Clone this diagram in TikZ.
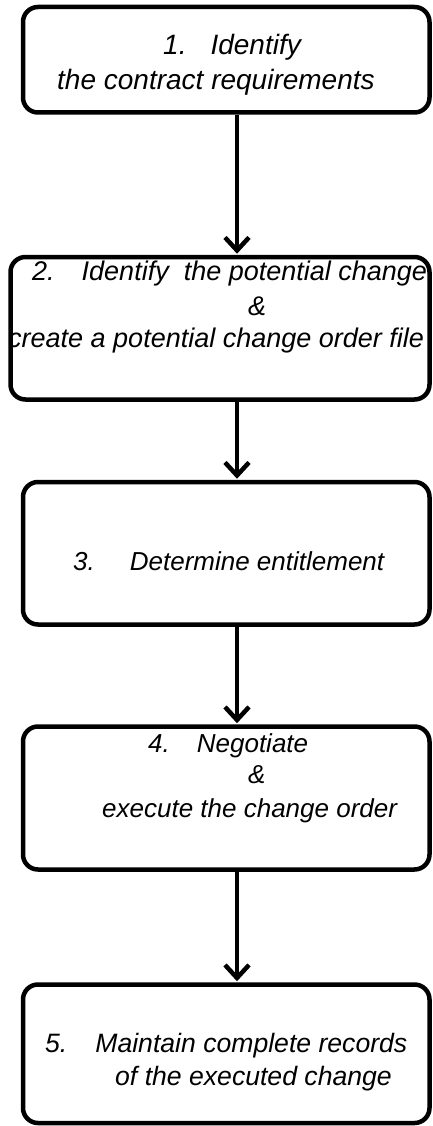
\documentclass[tikz,border=0pt]{standalone}
\usepackage{fontspec}
\setmainfont{Liberation Sans}
\usetikzlibrary{arrows.meta}
\tikzset{
  stepbox/.style={draw=black, line width=4.5pt, rounded corners=15pt, rectangle, inner sep=0pt, fill=white},
  txt/.style={anchor=base west, inner sep=0pt, font=\itshape},
  flow/.style={line width=4.5pt, -{Straight Barb[length=13pt,width=24pt]}, shorten >=1pt}
}
\begin{document}
\begin{tikzpicture}[x=1pt,y=1pt]
\useasboundingbox (0,0) rectangle (432,-1126);
% boxes
\node[stepbox, minimum width=406.5pt, minimum height=105.5pt] (b1) at (226.25,-59.75) {};
\node[stepbox, minimum width=419pt, minimum height=142.5pt] (b2) at (220,-328.25) {};
\node[stepbox, minimum width=406.5pt, minimum height=142.5pt] (b3) at (226.25,-553.25) {};
\node[stepbox, minimum width=406.5pt, minimum height=143pt] (b4) at (226.25,-798) {};
\node[stepbox, minimum width=406.5pt, minimum height=138.5pt] (b5) at (226.25,-1053.75) {};
% texts
\node[txt, font=\itshape\fontsize{28pt}{34pt}\selectfont] (t1a) at (163,-55) {1.\hspace{24pt}Identify};
\node[txt, font=\itshape\fontsize{28pt}{34pt}\selectfont] (t1b) at (57,-90) {the contract requirements};
\node[txt, font=\itshape\fontsize{27pt}{33pt}\selectfont] (t2a) at (32,-280) {2.\hspace{27pt}Identify\ \ the potential change};
\node[txt, font=\itshape\fontsize{27pt}{33pt}\selectfont] (t2b) at (248,-315) {\&};
\node[txt, font=\itshape\fontsize{27pt}{33pt}\selectfont] (t2c) at (8,-347) {create a potential change order file};
\node[txt, font=\itshape\fontsize{26pt}{32pt}\selectfont] (t3a) at (73,-570) {3.\hspace{35pt}Determine entitlement};
\node[txt, font=\itshape\fontsize{26pt}{32pt}\selectfont] (t4a) at (148,-752) {4.\hspace{27pt}Negotiate};
\node[txt, font=\itshape\fontsize{26pt}{32pt}\selectfont] (t4b) at (248,-783) {\&};
\node[txt, font=\itshape\fontsize{26pt}{32pt}\selectfont] (t4c) at (102,-817) {execute the change order};
\node[txt, font=\itshape\fontsize{26.6pt}{32pt}\selectfont] (t5a) at (45,-1052) {5.\hspace{28pt}Maintain complete records};
\node[txt, font=\itshape\fontsize{26.6pt}{32pt}\selectfont] (t5b) at (115,-1085) {of the executed change};
% connectors
\coordinate (ax) at (237,0);
\draw[flow] (b1.south -| ax) -- (b2.north -| ax);
\draw[flow] (b2.south -| ax) -- (b3.north -| ax);
\draw[flow] (b3.south -| ax) -- (b4.north -| ax);
\draw[flow] (b4.south -| ax) -- (b5.north -| ax);
\end{tikzpicture}
\end{document}
